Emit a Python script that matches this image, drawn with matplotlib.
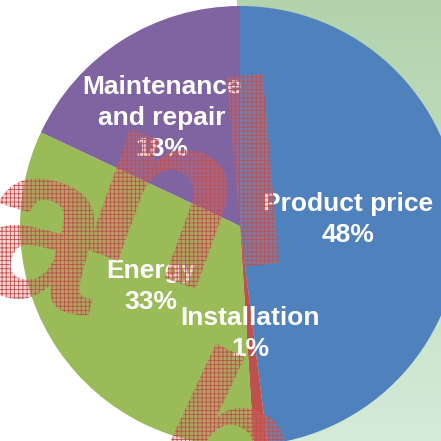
import numpy as np
import matplotlib
matplotlib.use("Agg")
import matplotlib.pyplot as plt
from matplotlib.textpath import TextPath
from matplotlib.patches import PathPatch
from matplotlib.font_manager import FontProperties
from matplotlib.transforms import Affine2D

# data
categories = ["Product price", "Installation", "Energy", "Maintenance\nand repair"]
shares = [48, 1, 33, 18]
colors = ["#4f81bd", "#c0504d", "#9bbb59", "#8064a2"]
label_dist = [0.49, 0.49, 0.49, 0.605]
label_shift = [0, 0, 0, 3.5]  # degrees, "best fit" nudge

W = H = 441
fig = plt.figure(figsize=(4.41, 4.41), dpi=100)
fig.patch.set_facecolor("white")

# greenish photo background on the right
bg = fig.add_axes([0, 0, 1, 1])
bg.set_axis_off()
grad = np.linspace(0, 1, 256)[:, None]
top = np.array([178, 211, 172]) / 255
bot = np.array([212, 235, 216]) / 255
img = top[None, None, :] * (1 - grad[:, :, None]) + bot[None, None, :] * grad[:, :, None]
bg.imshow(img, extent=[237, 441, 0, 441], aspect="auto", origin="upper")
bg.set_xlim(0, W)
bg.set_ylim(0, H)

# pie axes: centre at pixel (240, 226), radius 220 px
cx, cy, r = 240, 226, 220
ax = fig.add_axes([0, 0, 1, 1])
ax.set_axis_off()
ax.patch.set_alpha(0)
wedges, _ = ax.pie(shares, colors=colors, startangle=90, counterclock=False,
                   radius=1, wedgeprops=dict(linewidth=0))
ax.set_xlim(-cx / r, (W - cx) / r)
ax.set_ylim(-(H - cy) / r, cy / r)
ax.set_aspect("equal")

# watermark letters (hatched, red)
fp = FontProperties(family="Liberation Sans", weight="bold")
plt.rcParams["hatch.linewidth"] = 0.6
pix = Affine2D().scale(1 / W, 1 / H) + fig.transFigure
marks = [("a", 45, 243, 125, -15), ("n", 163, 208, 130, -20),
         ("l", 253, 170, 190, 5), ("b", 232, 445, 170, -25)]
for ch, px, py, hgt, rot in marks:
    tp = TextPath((0, 0), ch, size=100, prop=fp)
    ext = tp.get_extents()
    s = hgt / ext.height
    tr = (Affine2D().translate(-(ext.x0 + ext.x1) / 2, -(ext.y0 + ext.y1) / 2)
          .scale(s).rotate_deg(rot).translate(px, H - py))
    patch = PathPatch(tr.transform_path(tp), transform=pix,
                      facecolor=(0.86, 0.45, 0.45, 0.30), edgecolor="#c0504d",
                      hatch="++++", linewidth=0, zorder=3)
    fig.add_artist(patch)

# labels
for w, name, pct, d, sh in zip(wedges, categories, shares, label_dist, label_shift):
    ang = np.deg2rad((w.theta1 + w.theta2) / 2 + sh)
    ax.text(d * np.cos(ang), d * np.sin(ang), f"{name}\n{pct}%",
            ha="center", va="center", color="white", fontsize=19,
            fontweight="bold", family="Liberation Sans", linespacing=1.36,
            zorder=5)

fig.savefig("out.png", dpi=100)
